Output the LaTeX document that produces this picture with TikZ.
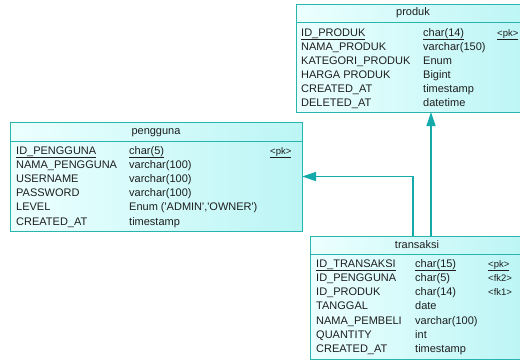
\documentclass[tikz,border=0pt]{standalone}
\usepackage{fontspec}
\setmainfont{Liberation Sans}
\usetikzlibrary{arrows.meta}
\definecolor{tealline}{RGB}{40,180,175}
\definecolor{arrowcol}{RGB}{20,170,170}
\definecolor{fillL}{RGB}{236,255,255}
\definecolor{fillR}{RGB}{188,245,245}
\definecolor{txt}{RGB}{30,30,30}
\begin{document}
\begin{tikzpicture}[x=1bp,y=-1bp,
 tbl/.style={draw=tealline, line width=1bp, left color=fillL, right color=fillR, inner sep=0, outer sep=0, anchor=north west},
 hdr/.style={draw=tealline, line width=1bp},
 cell/.style={anchor=base west, inner sep=0, text=txt, font=\fontsize{11bp}{13bp}\selectfont},
 keycell/.style={anchor=base west, inner sep=0, text=txt, font=\fontsize{9.5bp}{11bp}\selectfont},
 ttl/.style={anchor=center, inner sep=0, text=txt, font=\fontsize{11bp}{13bp}\selectfont},
 rel/.style={draw=arrowcol, line width=1.3bp, -{Triangle[length=14bp,width=9bp]}}]
\useasboundingbox (0,0) rectangle (520,362);
\clip (0,0) rectangle (520,362);
\fill[white] (0,0) rectangle (520,362);

% ---- produk ----
\node[tbl, minimum width=234bp, minimum height=108bp] (produk) at (296,4) {};
\draw[hdr] (produk.north west) ++(0,18) -- ++(234,0);
\node[ttl] (produkT) at (413,13) {produk};
\node[cell] (pn0) at (301,36) {\underline{ID\_PRODUK}};
\node[cell] (pt0) at (423,36) {\underline{char(14)}};
\node[keycell] (pk0) at (497,36) {\underline{<pk>}};
\foreach \n/\t [count=\i] in {NAMA\_PRODUK/varchar(150), KATEGORI\_PRODUK/Enum, HARGA PRODUK/Bigint, CREATED\_AT/timestamp, DELETED\_AT/datetime}{
  \node[cell] (pn\i) at (301,36+14*\i) {\n};
  \node[cell] (pt\i) at (423,36+14*\i) {\t};
}

% ---- pengguna ----
\node[tbl, minimum width=292bp, minimum height=109bp] (pengguna) at (10,122) {};
\draw[hdr] (pengguna.north west) ++(0,19) -- ++(292,0);
\node[ttl] (penggunaT) at (156,132.5) {pengguna};
\node[cell] (gn0) at (16,154) {\underline{ID\_PENGGUNA}};
\node[cell] (gt0) at (129,154) {\underline{char(5)}};
\node[keycell] (gk0) at (270,154) {\underline{<pk>}};
\foreach \n/\t [count=\i] in {NAMA\_PENGGUNA/varchar(100), USERNAME/varchar(100), PASSWORD/varchar(100), LEVEL/{Enum (\textquotesingle ADMIN\textquotesingle,\textquotesingle OWNER\textquotesingle)}, CREATED\_AT/timestamp}{
  \node[cell] (gn\i) at (16,154+14.2*\i) {\n};
  \node[cell] (gt\i) at (129,154+14.2*\i) {\t};
}

% ---- transaksi ----
\node[tbl, minimum width=214bp, minimum height=123bp] (transaksi) at (310,236) {};
\draw[hdr] (transaksi.north west) ++(0,18) -- ++(214,0);
\node[ttl] (transaksiT) at (417,245) {transaksi};
\node[cell] (tn0) at (316,267) {\underline{ID\_TRANSAKSI}};
\node[cell] (tt0) at (415,267) {\underline{char(15)}};
\node[keycell] (tk0) at (488,267) {\underline{<pk>}};
\foreach \n/\t [count=\i] in {ID\_PENGGUNA/char(5), ID\_PRODUK/char(14), TANGGAL/date, NAMA\_PEMBELI/varchar(100), QUANTITY/int, CREATED\_AT/timestamp}{
  \node[cell] (tn\i) at (316,267+14.3*\i) {\n};
  \node[cell] (tt\i) at (415,267+14.3*\i) {\t};
}
\node[keycell] (tk1) at (488,281.3) {<fk2>};
\node[keycell] (tk2) at (488,295.6) {<fk1>};

% ---- relations ----
\coordinate (t1) at (413,236);
\coordinate (t2) at (431,236);
\draw[rel] (t1) |- (pengguna.east);
\draw[rel] (t2) -- (t2 |- produk.south);
\end{tikzpicture}
\end{document}
